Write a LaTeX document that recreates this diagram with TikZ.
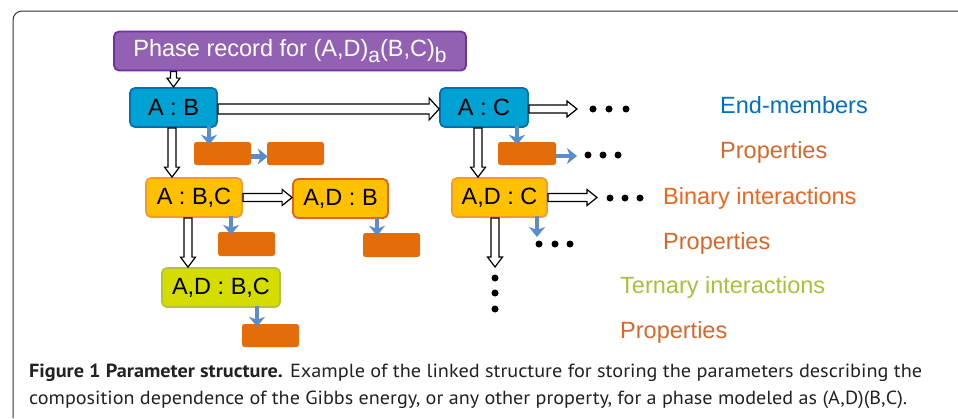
\documentclass[tikz,border=0pt]{standalone}
\usepackage{fontspec}
\setmainfont{Liberation Sans}
\newfontfamily\capfont{PT Sans}
\usetikzlibrary{arrows.meta,calc}
\definecolor{purplefill}{HTML}{9361B3}
\definecolor{purpleborder}{HTML}{7030A0}
\definecolor{cyanfill}{HTML}{00A2D3}
\definecolor{cyanborder}{HTML}{0070B0}
\definecolor{goldfill}{HTML}{FFC000}
\definecolor{goldborder}{HTML}{F59B2A}
\definecolor{redborder}{HTML}{E8601C}
\definecolor{greenfill}{HTML}{D4DC00}
\definecolor{greenborder}{HTML}{B2C434}
\definecolor{propfill}{HTML}{E46C0A}
\definecolor{bluearrow}{HTML}{5B8DCB}
\definecolor{endcol}{HTML}{0070C0}
\definecolor{propcol}{HTML}{D9672A}
\definecolor{bincol}{HTML}{F0641E}
\definecolor{terncol}{HTML}{A9C13A}
\definecolor{framecol}{HTML}{333333}
\definecolor{captext}{HTML}{222222}
\newcommand\hollowh[5]{\draw[hollowarr] let \p1=(#1), \p2=(#2) in
 (\x1,\y1+#3) -- (\x2-#5,\y1+#3) -- (\x2-#5,\y1+#4) -- (\x2,\y1) -- (\x2-#5,\y1-#4) -- (\x2-#5,\y1-#3) -- (\x1,\y1-#3) -- cycle;}
\newcommand\hollowv[5]{\draw[hollowarr] let \p1=(#1), \p2=(#2) in
 (\x1-#3,\y1) -- (\x1-#3,\y2+#5) -- (\x1-#4,\y2+#5) -- (\x1,\y2) -- (\x1+#4,\y2+#5) -- (\x1+#3,\y2+#5) -- (\x1+#3,\y1) -- cycle;}
\begin{document}
\begin{tikzpicture}[x=1pt,y=-1pt,
  bigfont/.style={font=\fontsize{23.5}{28}\selectfont},
  box/.style={rounded corners=5pt, line width=1.8pt, minimum height=39pt, inner sep=0pt, bigfont, text=black},
  propbox/.style={fill=propfill, rounded corners=2.5pt, minimum width=57pt, minimum height=23pt, inner sep=0pt},
  hollowarr/.style={draw=black, fill=white, line width=1.2pt, line join=miter},
  bluearr/.style={draw=bluearrow, line width=4.5pt, -{Stealth[length=10pt,width=16pt,inset=3pt]}},
  dot/.style={circle, fill=black, inner sep=0pt, minimum size=7pt},
  lbl/.style={anchor=base west, inner sep=0pt, bigfont},
  capline/.style={anchor=base west, inner sep=0pt, text=captext, font=\capfont\fontsize{19}{22}\selectfont}
]
\useasboundingbox (0,0) rectangle (958,418);
\fill[white] (0,0) rectangle (958,418);
\draw[framecol, line width=1pt, rounded corners=9pt] (13,418) -- (13,11) -- (958,11);

% nodes
\node[box, fill=purplefill, draw=purpleborder, text=white, minimum width=352pt] (phase) at (290,51)
  {Phase record for (A,D)\raisebox{-6pt}{\fontsize{21}{24}\selectfont a}(B,C)\raisebox{-6pt}{\fontsize{21}{24}\selectfont b}};
\node[box, fill=cyanfill, draw=cyanborder, minimum width=87pt] (AB) at (173.5,107.5) {A : B};
\node[box, fill=cyanfill, draw=cyanborder, minimum width=88pt] (AC) at (484,107.5) {A : C};
\node[box, fill=goldfill, draw=goldborder, minimum width=96pt] (ABC) at (194,197.5) {A : B,C};
\node[box, fill=goldfill, draw=redborder, minimum width=95pt] (ADB) at (340.5,198.5) {A,D : B};
\node[box, fill=goldfill, draw=goldborder, minimum width=95pt] (ADC) at (499.5,197.5) {A,D : C};
\node[box, fill=greenfill, draw=greenborder, minimum width=118pt] (ADBC) at (221,287.5) {A,D : B,C};

\node[propbox] (P1) at (222.5,153.5) {};
\node[propbox] (P2) at (295.5,153.5) {};
\node[propbox, minimum width=58pt] (P3) at (527,153.5) {};
\node[propbox, minimum height=24pt] (P4) at (246.5,244) {};
\node[propbox, minimum height=24pt] (P5) at (391.5,245) {};
\node[propbox] (P6) at (270.5,335.5) {};

% dots
\node[dot] (d1) at (593,109) {}; \node[dot] (d2) at (609,109) {}; \node[dot] (d3) at (626,109) {};
\node[dot] (e1) at (588,155) {}; \node[dot] (e2) at (603,155) {}; \node[dot] (e3) at (618,155) {};
\node[dot] (f1) at (610,198) {}; \node[dot] (f2) at (625,198) {}; \node[dot] (f3) at (640,198) {};
\node[dot] (g1) at (539,244) {}; \node[dot] (g2) at (555,244) {}; \node[dot] (g3) at (570,244) {};
\node[dot] (h1) at (495,278) {}; \node[dot] (h2) at (495,293) {}; \node[dot] (h3) at (495,309) {};

\coordinate (acend) at (577,109);
\coordinate (p3end) at (577,156);
\coordinate (adcend) at (597,198);
\coordinate (adcblue) at (537,237);
\coordinate (adcdown) at (495,267);

% hollow arrows
\hollowv{phase.south -| AB.north}{AB.north}{3pt}{6.5pt}{9pt}
\hollowh{[yshift=-1.5pt]AB.east}{AC.west}{5pt}{11pt}{10pt}
\hollowv{[xshift=-1.5pt]AB.south}{ABC.north}{4pt}{7.5pt}{10pt}
\hollowv{[xshift=-6pt]AC.south}{ADC.north}{4pt}{7.5pt}{10pt}
\hollowh{[yshift=-1.5pt]AC.east}{acend}{4pt}{8pt}{10pt}
\hollowh{ABC.east}{ADB.west}{4pt}{8pt}{10pt}
\hollowh{ADC.east}{adcend}{4pt}{8pt}{10pt}
\hollowv{[xshift=-6pt]ABC.south}{ADBC.north}{4pt}{7.5pt}{10pt}
\hollowv{ADC.south -| adcdown}{adcdown}{4pt}{7.5pt}{10pt}

% blue arrows
\draw[bluearr] ([xshift=35.5pt,yshift=2pt]AB.south) -- ([xshift=-13.5pt,yshift=-3pt]P1.north);
\draw[bluearr] ([yshift=-3pt]P1.east) -- ([xshift=1pt,yshift=-3pt]P2.west);
\draw[bluearr] ([xshift=33pt,yshift=2pt]AC.south) -- ([xshift=-10pt,yshift=-3pt]P3.north);
\draw[bluearr] ([yshift=-2.5pt]P3.east) -- (p3end);
\draw[bluearr] ([xshift=37pt,yshift=2pt]ABC.south) -- ([xshift=-15.5pt,yshift=-3pt]P4.north);
\draw[bluearr] ([xshift=36.5pt,yshift=2pt]ADB.south) -- ([xshift=-14.5pt,yshift=-3pt]P5.north);
\draw[bluearr] ([xshift=36pt,yshift=2pt]ADBC.south) -- ([xshift=-13.5pt,yshift=-3pt]P6.north);
\draw[bluearr] ([xshift=37.5pt,yshift=2pt]ADC.south) -- (adcblue);

% labels
\node[lbl, text=endcol] (L1) at (720,113.5) {End-members};
\node[lbl, text=propcol] (L2) at (720,158) {Properties};
\node[lbl, text=bincol] (L3) at (663,204) {Binary interactions};
\node[lbl, text=propcol] (L4) at (663,249) {Properties};
\node[lbl, text=terncol] (L5) at (620,293.5) {Ternary interactions};
\node[lbl, text=propcol] (L6) at (620,338) {Properties};

% caption
\node[capline] (cap1) at (29,377) {\resizebox{893pt}{\height}{\textbf{Figure 1 Parameter structure.} Example of the linked structure for storing the parameters describing the}};
\node[capline] (cap2) at (29,404) {\resizebox{878pt}{\height}{composition dependence of the Gibbs energy, or any other property, for a phase modeled as (A,D)(B,C).}};
\end{tikzpicture}
\end{document}
